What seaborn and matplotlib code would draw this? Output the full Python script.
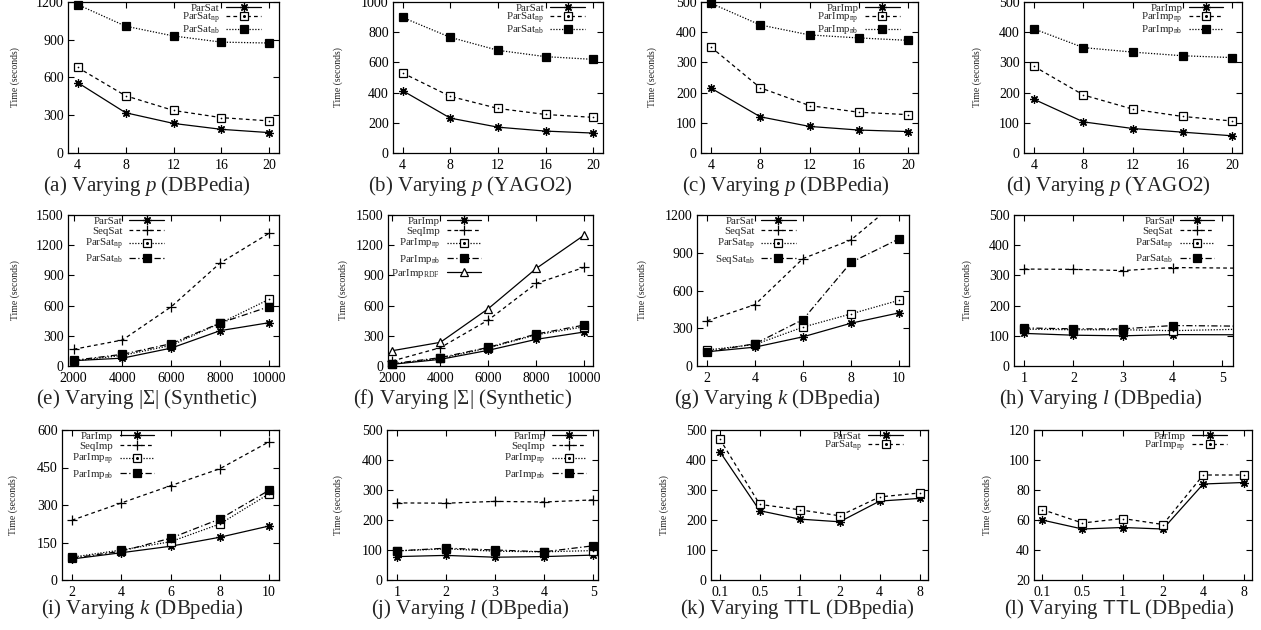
import numpy as np
import matplotlib
matplotlib.use('Agg')
import matplotlib.pyplot as plt
from matplotlib.lines import Line2D
from matplotlib.legend_handler import HandlerTuple
import seaborn as sns

# x values
P_VALUES = [4, 8, 12, 16, 20]
SIGMA_VALUES = [2000, 4000, 6000, 8000, 10000]
K_VALUES = [2, 4, 6, 8, 10]
L_VALUES = [1, 2, 3, 4, 5]
L_VALUES_H = [1, 2, 3, 4, 6]   # last point lies past the plotted range
TTL_LABELS = ['0.1', '0.5', '1', '2', '4', '8']

# (a) Varying p (DBPedia)
a_parsat = [560, 320, 235, 188, 162]
a_parsat_np = [680, 455, 338, 281, 255]
a_parsat_nb = [1180, 1008, 930, 881, 874]
# (b) Varying p (YAGO2)
b_parsat = [413, 231, 171, 145, 132]
b_parsat_np = [530, 375, 295, 255, 236]
b_parsat_nb = [898, 766, 680, 638, 620]
# (c) Varying p (DBPedia)
c_parimp = [215, 120, 88, 76, 71]
c_parimp_np = [351, 216, 157, 135, 127]
c_parimp_nb = [496, 424, 391, 381, 373]
# (d) Varying p (YAGO2)
d_parimp = [178, 103, 81, 69, 57]
d_parimp_np = [287, 192, 145, 121, 106]
d_parimp_nb = [411, 349, 334, 322, 316]
# (e) Varying |Sigma| (Synthetic)
e_parsat = [53, 78, 178, 351, 430]
e_seqsat = [166, 258, 589, 1023, 1318]
e_parsat_np = [50, 105, 205, 425, 662]
e_parsat_nb = [56, 116, 222, 427, 589]
# (f) Varying |Sigma| (Synthetic)
f_parimp = [17, 66, 156, 265, 338]
f_seqimp = [50, 182, 457, 821, 980]
f_parimp_np = [20, 75, 180, 310, 390]
f_parimp_nb = [23, 83, 185, 318, 407]
f_parimp_rdf = [152, 235, 570, 970, 1301]
# (g) Varying k (DBpedia)
g_parsat = [113, 150, 232, 340, 422]
g_seqsat = [359, 488, 854, 1002, 1320]
g_parsat_np = [127, 171, 309, 414, 522]
g_seqsat_nb = [113, 177, 369, 823, 1010]
# (h) Varying l (DBpedia)
h_parsat = [108, 102, 100, 104, 103]
h_seqsat = [321, 320, 316, 326, 323]
h_parsat_np = [122, 120, 120, 117, 124]
h_parsat_nb = [126, 123, 123, 134, 131]
# (i) Varying k (DBpedia)
i_parimp = [84, 109, 135, 171, 216]
i_seqimp = [239, 308, 377, 445, 553]
i_parimp_np = [91, 120, 153, 224, 345]
i_parimp_nb = [87, 115, 167, 244, 359]
# (j) Varying l (DBpedia)
j_parimp = [78, 82, 76, 78, 83]
j_seqimp = [257, 256, 262, 260, 267]
j_parimp_np = [97, 104, 96, 94, 98]
j_parimp_nb = [97, 106, 100, 94, 114]
# (k) Varying TTL (DBpedia)
k_parsat = [428, 231, 203, 194, 263, 272]
k_parsat_np = [470, 252, 234, 214, 277, 290]
# (l) Varying TTL (DBpedia)
l_parimp = [60, 54, 55, 54, 84, 85]
l_parimp_np = [67, 58, 61, 57, 90, 90]

NP = r'$_{\mathrm{np}}$'
NB = r'$_{\mathrm{nb}}$'

# gnuplot-like line/point styles
STYLES = {
    'solid_star': dict(ls='-', marker=(8, 2, 0), mfc='black', ms=6, dot=False),
    'dash_plus': dict(ls=(0, (3, 2.5)), marker='+', mfc='black', ms=6.5, dot=False),
    'dash_sq': dict(ls=(0, (3, 2.5)), marker='s', mfc='white', ms=5.5, dot=True),
    'dot_sq': dict(ls=(0, (1, 1.3)), marker='s', mfc='white', ms=5.5, dot=True),
    'dot_fsq': dict(ls=(0, (1, 1.3)), marker='s', mfc='black', ms=6, dot=False),
    'dashdot_fsq': dict(ls=(0, (5, 2, 1, 2)), marker='s', mfc='black', ms=6, dot=False),
    'solid_tri': dict(ls='-', marker='^', mfc='white', ms=6, dot=False),
}

ROW_Y = [(2, 153), (215, 366), (430, 580)]
CAP_Y = [186, 399, 609]

PANELS = [
    dict(row=0, px=(68, 279), cap_x=147, ylab=-0.25, leg=0.92,
         x=P_VALUES, xlim=(3.2, 20.8), ylim=(0, 1200), ystep=300,
         cap=r'(a) Varying $p$ (DBPedia)',
         series=[('ParSat', a_parsat, 'solid_star'),
                 ('ParSat' + NP, a_parsat_np, 'dash_sq'),
                 ('ParSat' + NB, a_parsat_nb, 'dot_fsq')]),
    dict(row=0, px=(393, 603), cap_x=470, ylab=-0.26, leg=0.92,
         x=P_VALUES, xlim=(3.2, 20.8), ylim=(0, 1000), ystep=200,
         cap=r'(b) Varying $p$ (YAGO2)',
         series=[('ParSat', b_parsat, 'solid_star'),
                 ('ParSat' + NP, b_parsat_np, 'dash_sq'),
                 ('ParSat' + NB, b_parsat_nb, 'dot_fsq')]),
    dict(row=0, px=(701, 918), cap_x=786, ylab=-0.226, leg=0.92,
         x=P_VALUES, xlim=(3.2, 20.8), ylim=(0, 500), ystep=100,
         cap=r'(c) Varying $p$ (DBPedia)',
         series=[('ParImp', c_parimp, 'solid_star'),
                 ('ParImp' + NP, c_parimp_np, 'dash_sq'),
                 ('ParImp' + NB, c_parimp_nb, 'dot_fsq')]),
    dict(row=0, px=(1024, 1242), cap_x=1108, ylab=-0.216, leg=0.92,
         x=P_VALUES, xlim=(3.2, 20.8), ylim=(0, 500), ystep=100,
         cap=r'(d) Varying $p$ (YAGO2)',
         series=[('ParImp', d_parimp, 'solid_star'),
                 ('ParImp' + NP, d_parimp_np, 'dash_sq'),
                 ('ParImp' + NB, d_parimp_nb, 'dot_fsq')]),
    dict(row=1, px=(68, 279), cap_x=147, ylab=-0.25, leg=0.46,
         x=SIGMA_VALUES, xlim=(1770, 10410), ylim=(0, 1500), ystep=300,
         cap=r'(e) Varying $|\Sigma|$ (Synthetic)',
         series=[('ParSat', e_parsat, 'solid_star'),
                 ('SeqSat', e_seqsat, 'dash_plus'),
                 ('ParSat' + NP, e_parsat_np, 'dot_sq'),
                 ('ParSat' + NB, e_parsat_nb, 'dashdot_fsq')]),
    dict(row=1, px=(388, 593), cap_x=463, ylab=-0.22, leg=0.46,
         x=SIGMA_VALUES, xlim=(1820, 10360), ylim=(0, 1500), ystep=300,
         cap=r'(f) Varying $|\Sigma|$ (Synthetic)',
         series=[('ParImp', f_parimp, 'solid_star'),
                 ('SeqImp', f_seqimp, 'dash_plus'),
                 ('ParImp' + NP, f_parimp_np, 'dot_sq'),
                 ('ParImp' + NB, f_parimp_nb, 'dashdot_fsq'),
                 (r'ParImp$_{\mathrm{RDF}}$', f_parimp_rdf, 'solid_tri')]),
    dict(row=1, px=(697, 909), cap_x=777, ylab=-0.26, leg=0.47,
         x=K_VALUES, xlim=(1.58, 10.42), ylim=(0, 1200), ystep=300,
         cap=r'(g) Varying $k$ (DBpedia)',
         series=[('ParSat', g_parsat, 'solid_star'),
                 ('SeqSat', g_seqsat, 'dash_plus'),
                 ('ParSat' + NP, g_parsat_np, 'dot_sq'),
                 ('SeqSat' + NB, g_seqsat_nb, 'dashdot_fsq')]),
    dict(row=1, px=(1014, 1233), cap_x=1101, ylab=-0.215, leg=0.92,
         x=L_VALUES_H, xticks=L_VALUES, xlim=(0.8, 5.22), ylim=(0, 500), ystep=100,
         cap=r'(h) Varying $l$ (DBpedia)',
         series=[('ParSat', h_parsat, 'solid_star'),
                 ('SeqSat', h_seqsat, 'dash_plus'),
                 ('ParSat' + NP, h_parsat_np, 'dot_sq'),
                 ('ParSat' + NB, h_parsat_nb, 'dashdot_fsq')]),
    dict(row=2, px=(62, 279), cap_x=142, ylab=-0.226, leg=0.43,
         x=K_VALUES, xlim=(1.6, 10.4), ylim=(0, 600), ystep=150,
         cap=r'(i) Varying $k$ (DBpedia)',
         series=[('ParImp', i_parimp, 'solid_star'),
                 ('SeqImp', i_seqimp, 'dash_plus'),
                 ('ParImp' + NP, i_parimp_np, 'dot_sq'),
                 ('ParImp' + NB, i_parimp_nb, 'dashdot_fsq')]),
    dict(row=2, px=(387, 598), cap_x=470, ylab=-0.232, leg=0.95,
         x=L_VALUES, xlim=(0.8, 5.1), ylim=(0, 500), ystep=100,
         cap=r'(j) Varying $l$ (DBpedia)',
         series=[('ParImp', j_parimp, 'solid_star'),
                 ('SeqImp', j_seqimp, 'dash_plus'),
                 ('ParImp' + NP, j_parimp_np, 'dot_sq'),
                 ('ParImp' + NB, j_parimp_nb, 'dashdot_fsq')]),
    dict(row=2, px=(711, 928), cap_x=797, ylab=-0.217, leg=0.89,
         x=TTL_LABELS, xlim=(-0.22, 5.21), ylim=(0, 500), ystep=100,
         cap=r'(k) Varying $\mathsf{TTL}$ (DBpedia)',
         series=[('ParSat', k_parsat, 'solid_star'),
                 ('ParSat' + NP, k_parsat_np, 'dash_sq')]),
    dict(row=2, px=(1034, 1252), cap_x=1119, ylab=-0.216, leg=0.89,
         x=TTL_LABELS, xlim=(-0.2, 5.21), ylim=(20, 120), ystep=20,
         cap=r'(l) Varying $\mathsf{TTL}$ (DBpedia)',
         series=[('ParImp', l_parimp, 'solid_star'),
                 ('ParImp' + NP, l_parimp_np, 'dash_sq')]),
]

W, H = 1261, 630
sns.set_theme(style='ticks')
plt.rcParams['font.family'] = ['Liberation Serif', 'DejaVu Serif']
plt.rcParams['mathtext.fontset'] = 'custom'
plt.rcParams['mathtext.rm'] = 'Liberation Serif'
plt.rcParams['mathtext.it'] = 'Liberation Serif:italic'
plt.rcParams['mathtext.sf'] = 'Liberation Sans'
plt.rcParams['axes.linewidth'] = 0.9

fig = plt.figure(figsize=(W / 100, H / 100), dpi=100)

for p in PANELS:
    top, bottom = ROW_Y[p['row']]
    left, right = p['px']
    ax = fig.add_axes([left / W, 1 - bottom / H, (right - left) / W, (bottom - top) / H])

    categorical = isinstance(p['x'][0], str)
    xs = np.arange(len(p['x'])) if categorical else np.array(p['x'])
    clip = bool(xs.max() > p['xlim'][1]) or any(max(s[1]) > p['ylim'][1] for s in p['series'])

    handles, labels = [], []
    for label, ys, key in p['series']:
        st = STYLES[key]
        sns.lineplot(x=xs, y=ys, ax=ax, color='black', linestyle=st['ls'], linewidth=0.9,
                     marker=st['marker'], markersize=st['ms'], markerfacecolor=st['mfc'],
                     markeredgecolor='black', markeredgewidth=0.9, clip_on=clip, zorder=3)
        h = Line2D([], [], color='black', linestyle=st['ls'], linewidth=0.9,
                   marker=st['marker'], markersize=st['ms'], markerfacecolor=st['mfc'],
                   markeredgecolor='black', markeredgewidth=0.9)
        if st['dot']:
            sns.scatterplot(x=xs, y=ys, ax=ax, color='black', s=1.5, marker='o',
                            linewidth=0, clip_on=clip, zorder=4, legend=False)
            h = (h, Line2D([], [], linestyle='none', marker='o', markersize=1.2, color='black'))
        handles.append(h)
        labels.append(label)

    ax.set_xlim(*p['xlim'])
    ax.set_ylim(*p['ylim'])
    if categorical:
        ax.set_xticks(xs)
        ax.set_xticklabels(p['x'])
    else:
        ax.set_xticks(p.get('xticks', p['x']))
    ax.set_yticks(np.arange(p['ylim'][0], p['ylim'][1] + 1, p['ystep']))
    ax.tick_params(direction='in', top=True, right=True, length=4, width=0.8,
                   labelsize=10, colors='black')
    ax.tick_params(axis='x', pad=4)
    ax.tick_params(axis='y', pad=3)
    for sp in ax.spines.values():
        sp.set_visible(True)
        sp.set_color('black')
    ax.set_xlabel('')
    ax.set_ylabel('Time (seconds)', fontsize=7)
    ax.yaxis.label.set_va('center')
    ax.yaxis.set_label_coords(p['ylab'], 0.5)

    # plain labels sit closer together than subscripted ones
    n_plain = sum('$' not in lab for lab in labels)
    spacing = 0.08 if n_plain >= 2 else -0.2
    ax.legend(handles, labels, loc='upper right', bbox_to_anchor=(p['leg'], 1.0),
              frameon=False, markerfirst=False, fontsize=7.8, handlelength=3.2,
              handletextpad=0.6, labelspacing=spacing, borderpad=0.1, borderaxespad=0,
              numpoints=1, handler_map={tuple: HandlerTuple(ndivide=1, pad=0)})

    fig.text(p['cap_x'] / W, 1 - CAP_Y[p['row']] / H, p['cap'], ha='center', va='center',
             fontsize=15)

fig.savefig('out.png', dpi=100)
